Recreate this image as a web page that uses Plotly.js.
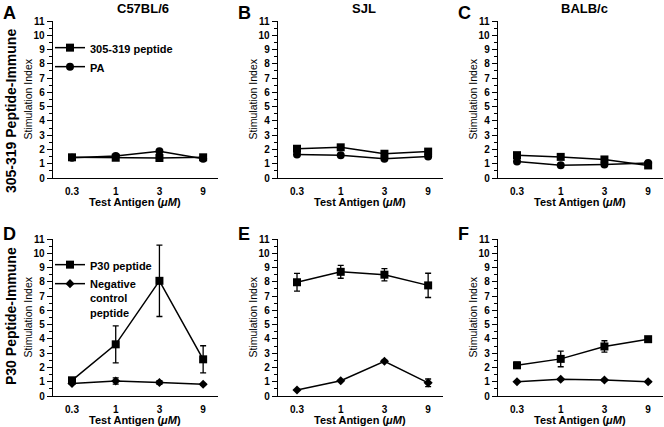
<!DOCTYPE html>
<html>
<head>
<meta charset="utf-8">
<script src="https://cdn.plot.ly/plotly-3.0.1.min.js"></script>
<style>
  html, body { margin: 0; padding: 0; background: #fff; }
  #chart { width: 664px; height: 427px; }
</style>
</head>
<body>
<div id="chart"></div>
<script>
// test antigen doses (µM)
const doses = ["0.3", "1", "3", "9"]
const strains = ["C57BL/6", "SJL", "BALB/c"]
const panelLetters = ["A", "B", "C", "D", "E", "F"]

// row 1: 305-319 peptide-immune
const c57Peptide = [1.45, 1.42, 1.40, 1.45]
const c57PA = [1.42, 1.55, 1.88, 1.35]
const sjlPeptide = [2.05, 2.15, 1.70, 1.85]
const sjlPA = [1.65, 1.60, 1.35, 1.50]
const balbPeptide = [1.60, 1.48, 1.30, 0.88]
const balbPA = [1.15, 0.90, 0.95, 1.05]

// row 2: P30 peptide-immune (mean, error)
const c57P30 = [1.10, 3.62, 8.07, 2.57]
const c57P30Err = [0.15, 1.30, 2.50, 0.95]
const c57Neg = [0.88, 1.05, 0.95, 0.82]
const c57NegErr = [0.05, 0.22, 0.13, 0.05]
const sjlP30 = [7.97, 8.70, 8.50, 7.75]
const sjlP30Err = [0.62, 0.45, 0.43, 0.85]
const sjlNeg = [0.42, 1.07, 2.43, 0.92]
const sjlNegErr = [0.03, 0.05, 0.08, 0.27]
const balbP30 = [2.15, 2.60, 3.47, 3.98]
const balbP30Err = [0.22, 0.55, 0.40, 0.15]
const balbNeg = [1.00, 1.17, 1.12, 1.00]
const balbNegErr = [0.05, 0.05, 0.05, 0.05]

const W = 664, H = 427
const px = x => x / W
const py = y => 1 - y / H
const FONT = "Liberation Sans, Arial, Helvetica, sans-serif"

const colLeft = [53, 278, 498]
const colWidth = 165
const rowTop = [[21, 178], [239, 396]]

const topRow = [
  [c57Peptide, c57PA],
  [sjlPeptide, sjlPA],
  [balbPeptide, balbPA]
]
const bottomRow = [
  [c57P30, c57P30Err, c57Neg, c57NegErr],
  [sjlP30, sjlP30Err, sjlNeg, sjlNegErr],
  [balbP30, balbP30Err, balbNeg, balbNegErr]
]

const data = []
const line = {color: "black", width: 1.5}
const errStyle = arr => ({type: "data", array: arr, visible: true, color: "black", thickness: 1.3, width: 3})

topRow.forEach(([pep, pa], c) => {
  const ax = c + 1
  const xa = ax === 1 ? "x" : "x" + ax
  const ya = ax === 1 ? "y" : "y" + ax
  data.push({x: doses, y: pep, xaxis: xa, yaxis: ya, type: "scatter", mode: "lines+markers",
    name: "305-319 peptide", showlegend: c === 0, legend: "legend",
    line, marker: {symbol: "square", size: 8, color: "black"}})
  data.push({x: doses, y: pa, xaxis: xa, yaxis: ya, type: "scatter", mode: "lines+markers",
    name: "PA", showlegend: c === 0, legend: "legend",
    line, marker: {symbol: "circle", size: 8, color: "black"}})
})

bottomRow.forEach(([p30, p30Err, neg, negErr], c) => {
  const ax = c + 4
  data.push({x: doses, y: p30, error_y: errStyle(p30Err), xaxis: "x" + ax, yaxis: "y" + ax,
    type: "scatter", mode: "lines+markers", name: "P30 peptide", showlegend: c === 0, legend: "legend2",
    line, marker: {symbol: "square", size: 8, color: "black"}})
  data.push({x: doses, y: neg, error_y: errStyle(negErr), xaxis: "x" + ax, yaxis: "y" + ax,
    type: "scatter", mode: "lines+markers", name: "Negative<br>control<br>peptide", showlegend: c === 0, legend: "legend2",
    line, marker: {symbol: "diamond", size: 7, color: "black"}})
})

const layout = {
  width: W, height: H,
  margin: {l: 0, r: 0, t: 0, b: 0},
  paper_bgcolor: "white", plot_bgcolor: "white",
  font: {family: FONT, color: "black"},
  showlegend: true,
  legend: {x: px(50), y: py(34), xanchor: "left", yanchor: "top", bgcolor: "rgba(0,0,0,0)",
    font: {size: 11, weight: "bold"}, itemwidth: 30, tracegroupgap: 0, valign: "top"},
  legend2: {x: px(50), y: py(251), xanchor: "left", yanchor: "top", bgcolor: "rgba(0,0,0,0)",
    font: {size: 11, weight: "bold"}, itemwidth: 30, tracegroupgap: 0, valign: "top"},
  annotations: []
}

for (let i = 0; i < 6; i++) {
  const c = i % 3, r = Math.floor(i / 3)
  const ax = i + 1
  const xKey = ax === 1 ? "xaxis" : "xaxis" + ax
  const yKey = ax === 1 ? "yaxis" : "yaxis" + ax
  const left = colLeft[c]
  const [t, b] = rowTop[r]
  layout[xKey] = {
    domain: [px(left), Math.min(1, px(left + colWidth))],
    anchor: ax === 1 ? "y" : "y" + ax,
    type: "category", range: [-0.435, 3.34],
    showline: true, linecolor: "black", linewidth: 1.3,
    showgrid: false, zeroline: false,
    ticks: "outside", ticklen: 4, tickcolor: "rgba(0,0,0,0)",
    tickfont: {size: 10, weight: "bold", family: FONT}
  }
  layout[yKey] = {
    domain: [py(b), py(t)],
    anchor: ax === 1 ? "x" : "x" + ax,
    range: [0, 11], dtick: 1, tick0: 0,
    showline: true, linecolor: "black", linewidth: 1.3,
    showgrid: false, zeroline: false,
    ticks: "outside", ticklen: 5, tickwidth: 1, tickcolor: "black",
    minor: {dtick: 0.5, ticks: "outside", ticklen: 2.5, tickcolor: "black", tickwidth: 1},
    tickfont: {size: 10, weight: "bold", family: FONT}
  }
  // panel letter
  layout.annotations.push({text: "<b>" + panelLetters[i] + "</b>", xref: "paper", yref: "paper",
    x: px([1, 236, 456][c]), y: py(r === 0 ? 1 : 222), xanchor: "left", yanchor: "top",
    showarrow: false, font: {size: 18}})
  // y axis title
  layout.annotations.push({text: "Stimulation Index", xref: "paper", yref: "paper",
    x: px(left - 26), y: py((t + b) / 2), textangle: -90, xanchor: "center", yanchor: "middle",
    showarrow: false, font: {size: 10.5}})
  // x axis title
  layout.annotations.push({text: "<b>Test Antigen (<i>μM</i>)</b>", xref: "paper", yref: "paper",
    x: px(left + 82), y: py(b + 24), xanchor: "center", yanchor: "middle",
    showarrow: false, font: {size: 11}})
}

strains.forEach((s, c) => {
  layout.annotations.push({text: "<b>" + s + "</b>", xref: "paper", yref: "paper",
    x: px([143, 364, 584][c]), y: py(8), xanchor: "center", yanchor: "middle",
    showarrow: false, font: {size: 13}})
})

layout.annotations.push({text: "<b>305-319 Peptide-Immune</b>", xref: "paper", yref: "paper",
  x: px(11), y: py(111), textangle: -90, xanchor: "center", yanchor: "middle",
  showarrow: false, font: {size: 14}})
layout.annotations.push({text: "<b>P30 Peptide-Immune</b>", xref: "paper", yref: "paper",
  x: px(11), y: py(316), textangle: -90, xanchor: "center", yanchor: "middle",
  showarrow: false, font: {size: 14}})

Plotly.newPlot("chart", data, layout, {displayModeBar: false, staticPlot: true})
</script>
</body>
</html>
